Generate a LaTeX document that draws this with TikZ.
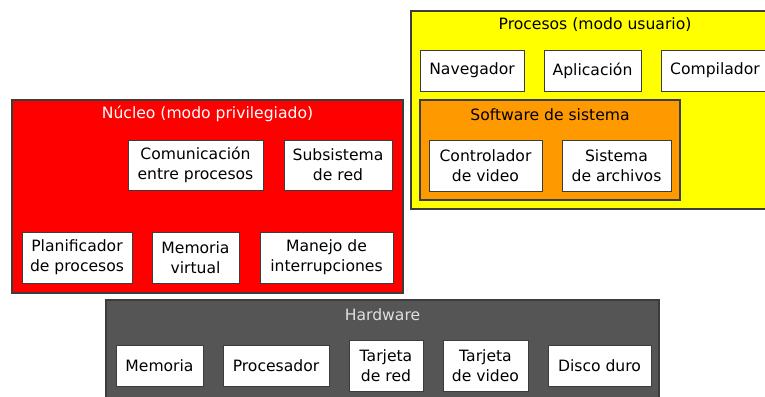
\documentclass[tikz,border=0pt]{standalone}
\usepackage{fontspec}
\setmainfont{DejaVu Sans}
\definecolor{nucleo}{RGB}{255,0,0}
\definecolor{usuario}{RGB}{255,255,0}
\definecolor{sistema}{RGB}{255,153,0}
\definecolor{hard}{RGB}{85,85,85}
\definecolor{borde}{RGB}{60,60,60}
\tikzset{
  capa/.style={draw=borde, line width=1.1pt, anchor=north west, inner sep=0pt, outer sep=0pt},
  pieza/.style={draw=borde, fill=white, line width=0.9pt, anchor=north west, inner sep=0pt, outer sep=0pt,
    align=center, font=\fontsize{15.6}{20}\selectfont},
  titulo/.style={font=\fontsize{15.6}{20}\selectfont, inner sep=0pt}
}
\begin{document}
\begin{tikzpicture}[x=1pt,y=-1pt]

\useasboundingbox (0,0) rectangle (765,396);
\clip (0,0) rectangle (765,396);

% capas
\node[capa, fill=nucleo, minimum width=391pt, minimum height=193pt] (Nucleo) at (12,100) {};
\node[capa, fill=usuario, minimum width=369pt, minimum height=198pt] (Usuario) at (411,11) {};
\node[capa, fill=sistema, minimum width=260pt, minimum height=100pt] (Sistema) at (420,100) {};
\node[capa, fill=hard, minimum width=553pt, minimum height=120pt] (Hardware) at (106,300) {};

\node[titulo, white] (tNucleo) at (207.5,114) {Núcleo (modo privilegiado)};
\node[titulo] (tUsuario) at (595,25) {Procesos (modo usuario)};
\node[titulo] (tSistema) at (550,115) {Software de sistema};
\node[titulo, black!12] (tHardware) at (382.5,315) {Hardware};

% nucleo
\node[pieza, minimum width=135pt, minimum height=50pt] (Ipc) at (128,140) {Comunicación\\entre procesos};
\node[pieza, minimum width=108pt, minimum height=50pt] (Red) at (284,140) {Subsistema\\de red};
\node[pieza, minimum width=110pt, minimum height=51pt] (Planif) at (22,232) {Planificador\\de procesos};
\node[pieza, minimum width=87pt, minimum height=51pt] (MemVirt) at (152,232) {Memoria\\virtual};
\node[pieza, minimum width=133pt, minimum height=51pt] (Interr) at (260,232) {Manejo de\\interrupciones};

% procesos
\node[pieza, minimum width=104pt, minimum height=41pt] (Naveg) at (420,50) {Navegador};
\node[pieza, minimum width=97pt, minimum height=41pt] (Aplic) at (544,50) {Aplicación};
\node[pieza, minimum width=108pt, minimum height=41pt] (Compil) at (661,50) {Compilador};
\node[pieza, minimum width=113pt, minimum height=51pt] (CtrlVideo) at (429,140) {Controlador\\de video};
\node[pieza, minimum width=109pt, minimum height=51pt] (SisArch) at (562,140) {Sistema\\de archivos};

% hardware
\node[pieza, minimum width=87pt, minimum height=41pt] (Mem) at (116,345) {Memoria};
\node[pieza, minimum width=106pt, minimum height=41pt] (Cpu) at (223,345) {Procesador};
\node[pieza, minimum width=74pt, minimum height=51pt] (TRed) at (349,340) {Tarjeta\\de red};
\node[pieza, minimum width=85pt, minimum height=51pt] (TVideo) at (443,340) {Tarjeta\\de video};
\node[pieza, minimum width=103pt, minimum height=41pt] (Disco) at (548,345) {Disco duro};

\end{tikzpicture}
\end{document}
